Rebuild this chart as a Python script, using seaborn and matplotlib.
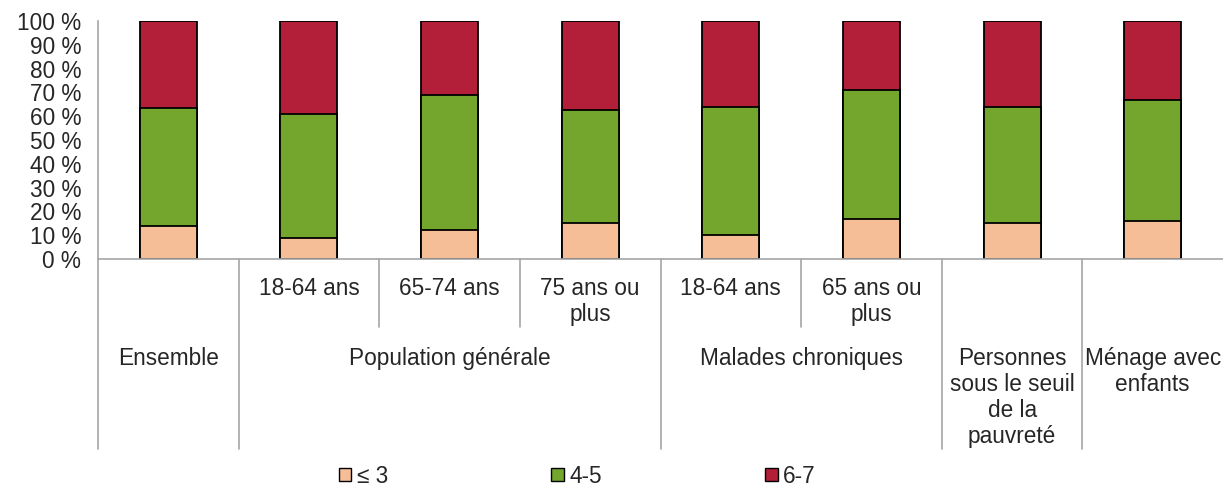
import matplotlib
matplotlib.use("Agg")
import matplotlib.pyplot as plt
from matplotlib.patches import Patch
import seaborn as sns

# Score bands (share of respondents, %)
keys = ["ens", "pg_18_64", "pg_65_74", "pg_75", "mc_18_64", "mc_65", "pauv", "menage"]
low = [14, 9, 12, 15, 10, 17, 15, 16]          # ≤ 3
mid = [49.5, 52, 57, 47.5, 54, 54, 49, 51]     # 4-5
high = [36.5, 39, 31, 37.5, 36, 29, 36, 33]    # 6-7

series_labels = ["≤ 3", "4-5", "6-7"]
sub_labels = ["", "18-64 ans", "65-74 ans", "75 ans ou\nplus", "18-64 ans", "65 ans ou\nplus", "", ""]
group_labels = ["Ensemble", "Population générale", "Malades chroniques",
                "Personnes\nsous le seuil\nde la\npauvreté", "Ménage avec\nenfants"]
group_spans = [(0, 0), (1, 3), (4, 5), (6, 6), (7, 7)]

c_low, c_mid, c_high = "#F5BE96", "#74A52C", "#B31F39"
grey = "#A6A6A6"

sns.set_style("white")
plt.rcParams["font.family"] = ["Liberation Sans", "DejaVu Sans"]
FS = 16.3
LS = 1.17

fig = plt.figure(figsize=(12.23, 4.86), dpi=100)
W, H = 1223, 486
ax = fig.add_axes([98 / W, 1 - 259 / H, 1 - 98 / W, 238 / H])

cum_mid = [a + b for a, b in zip(low, mid)]
cum_high = [a + b + c for a, b, c in zip(low, mid, high)]

bar_kw = dict(order=keys, width=0.405, saturation=1, edgecolor="black", linewidth=1.3, ax=ax)
sns.barplot(x=keys, y=cum_high, color=c_high, **bar_kw)
sns.barplot(x=keys, y=cum_mid, color=c_mid, **bar_kw)
sns.barplot(x=keys, y=low, color=c_low, **bar_kw)

ax.set_xlim(-0.5, len(keys) - 0.5)
ax.set_ylim(0, 100)
ax.set_yticks(range(0, 101, 10))
ax.set_yticklabels([f"{v} %" for v in range(0, 101, 10)], fontsize=FS)
ax.set_xticks([])
ax.set_xlabel("")
ax.set_ylabel("")
ax.tick_params(axis="y", direction="out", length=7, width=1, color=grey, pad=5)
for s in ("top", "right"):
    ax.spines[s].set_visible(False)
for s in ("left", "bottom"):
    ax.spines[s].set_color(grey)
    ax.spines[s].set_linewidth(1.2)

trans = ax.get_xaxis_transform()
ax_h = 238.0
y_short = -(327 - 259) / ax_h
y_long = -(449 - 259) / ax_h

# Separators between groups (long) and between sub-categories (short)
for x in [-0.5, 0.5, 3.5, 5.5, 6.5]:
    ax.plot([x, x], [0, y_long], transform=trans, color=grey, lw=1.2, clip_on=False)
for x in [1.5, 2.5, 4.5]:
    ax.plot([x, x], [0, y_short], transform=trans, color=grey, lw=1.2, clip_on=False)

# Sub-category labels
for i, lab in enumerate(sub_labels):
    if lab:
        ax.text(i, -(277 - 259) / ax_h, lab, transform=trans, ha="center", va="top",
                fontsize=FS, multialignment="center", linespacing=LS)

# Group labels
for lab, (a, b) in zip(group_labels, group_spans):
    ax.text((a + b) / 2, -(347 - 259) / ax_h, lab, transform=trans, ha="center", va="top",
            fontsize=FS, multialignment="center", linespacing=LS)

handles = [Patch(facecolor=c, edgecolor="black", linewidth=1) for c in (c_low, c_mid, c_high)]
fig.legend(handles, series_labels, loc="center left", bbox_to_anchor=(339 / W, 1 - 476 / H),
           ncol=3, frameon=False, fontsize=FS, handlelength=0.55, handleheight=0.55,
           handletextpad=0.25, columnspacing=7.2, borderpad=0, borderaxespad=0)

fig.savefig("out.png", dpi=100)
